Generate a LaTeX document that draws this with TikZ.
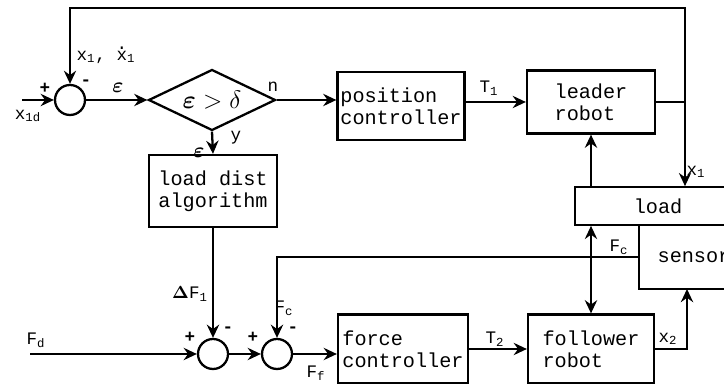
\documentclass[tikz,border=0pt]{standalone}
\usepackage{amsmath, amssymb}
\usepackage{fontspec}
\setmonofont{Liberation Mono}
\usepackage{tikz}
\usetikzlibrary{arrows.meta, positioning, shapes.geometric}
\newcommand{\dotx}{\ooalign{\hidewidth\raisebox{0.62em}{.}\hidewidth\cr x\cr}}

\begin{document}
\begin{tikzpicture}[x=0.02cm, y=-0.02cm,
    font=\ttfamily\fontsize{11.5}{12.5}\selectfont,
    block/.style={draw, line width=1.3pt, align=left, inner sep=1pt},
    sumnode/.style={draw, circle, line width=1.3pt, minimum size=0.6cm, inner sep=0pt},
    sig/.style={line width=1.3pt},
    fb/.style={line width=0.9pt},
    tip/.style={-{Stealth[length=7.5pt,width=7pt,inset=2.5pt]}},
    lbl/.style={font=\ttfamily\fontsize{10}{11}\selectfont, inner sep=0pt}]
  \useasboundingbox (0,0) rectangle (724,384);
  \clip (0,0) rectangle (724,384);
  % Position loop
  \node[sumnode] (s1) at (70,100) {};
  \node[diamond, draw, line width=1.3pt, aspect=2.08, minimum width=2.54cm,
        minimum height=1.22cm, inner sep=0pt, font=\fontsize{15}{17}\selectfont]
    (cmp) at (212,100) {$\boldsymbol{\varepsilon} > \delta$};
  \node[block, minimum width=2.54cm, minimum height=1.36cm] (pos) at (401,106) {position\\controller};
  \node[block, minimum width=2.56cm, minimum height=1.26cm] (leader) at (591,102) {leader\\robot};
  \node[block, minimum width=2.56cm, minimum height=1.44cm] (ldist) at (213,191) {load dist\\algorithm};
  % Force loop
  \node[sumnode] (s2) at (213,354) {};
  \node[sumnode] (s3) at (277,354) {};
  \node[block, minimum width=2.6cm, minimum height=1.38cm] (force) at (403,349) {force\\controller};
  \node[block, minimum width=2.52cm, minimum height=1.38cm] (follower) at (591,349) {follower\\robot};
  % Load and sensor
  \node[draw, line width=1pt, minimum width=3.32cm, minimum height=0.76cm] (load) at (658,206) {load};
  \node[draw, line width=0.8pt, minimum width=2.2cm, minimum height=1.28cm] (sensor) at (694,257) {sensor};
  \coordinate (xin) at (22,100);
  \coordinate (fdin) at (30,354);
  \coordinate (j1) at (685,102);
  \coordinate (ctop) at (70,8);
  \coordinate (xs) at (687,289);
  % Edges
  \draw[sig, tip] (xin) -- (s1);
  \draw[sig, tip] (s1) -- (cmp.west);
  \draw[sig, tip] (cmp.east) -- (pos.west |- cmp.east);
  \draw[sig, tip] (pos.east |- leader) -- (leader.west);
  \draw[sig] (leader.east) -- (j1);
  \draw[fb, tip] (j1) -- (j1 |- load.north);
  \draw[fb, tip] (j1) |- (ctop) -- (s1.north);
  \draw[sig, tip] (cmp.south) -- (ldist.north);
  \draw[sig, tip] (ldist.south) -- (s2.north);
  \draw[sig, tip] (fdin) -- (s2.west);
  \draw[sig, tip] (s2) -- (s3.west);
  \draw[sig, tip] (s3) -- (s3 -| force.west);
  \draw[sig, tip] (force.east) -- (follower.west);
  \draw[sig, tip] (follower.east) -| (xs);
  \draw[sig, tip] (sensor.west) -| (s3.north);
  \draw[sig, tip] (leader.south |- load.north) -- (leader.south);
  \draw[sig, {Stealth[length=7.5pt,width=7pt,inset=2.5pt]}-{Stealth[length=7.5pt,width=7pt,inset=2.5pt]}]
    (follower.north |- load.south) -- (follower.north);
  % Labels
  \node[lbl] (lx1d) at (28,116) {x\textsubscript{1d}};
  \node[lbl] (lp1) at (45,88) {\textbf{+}};
  \node[lbl] (lm1) at (86,83) {\textbf{-}};
  \node[lbl] (lfb) at (106,55) {x\textsubscript{1}, \dotx\textsubscript{1}};
  \node[lbl, font=\fontsize{12}{13}\selectfont] (le1) at (118,88) {$\boldsymbol{\varepsilon}$};
  \node[lbl] (ln) at (273,87) {n};
  \node[lbl] (ly) at (236,138) {y};
  \node[lbl, font=\fontsize{12}{13}\selectfont] (le2) at (199,153) {$\boldsymbol{\varepsilon}$};
  \node[lbl] (lt1) at (489,88) {T\textsubscript{1}};
  \node[lbl] (lx1) at (696,172) {x\textsubscript{1}};
  \node[lbl] (lfc1) at (619,247) {F\textsubscript{c}};
  \node[lbl] (ldf) at (190,294) {$\boldsymbol{\Delta}$F\textsubscript{1}};
  \node[lbl] (lfc2) at (284,308) {F\textsubscript{c}};
  \node[lbl] (lm2) at (228,330) {\textbf{-}};
  \node[lbl] (lp2) at (190,337) {\textbf{+}};
  \node[lbl] (lm3) at (293,330) {\textbf{-}};
  \node[lbl] (lp3) at (253,337) {\textbf{+}};
  \node[lbl] (lfd) at (36,340) {F\textsubscript{d}};
  \node[lbl] (lff) at (316,373) {F\textsubscript{f}};
  \node[lbl] (lt2) at (495,339) {T\textsubscript{2}};
  \node[lbl] (lx2) at (668,339) {x\textsubscript{2}};
\end{tikzpicture}
\end{document}
